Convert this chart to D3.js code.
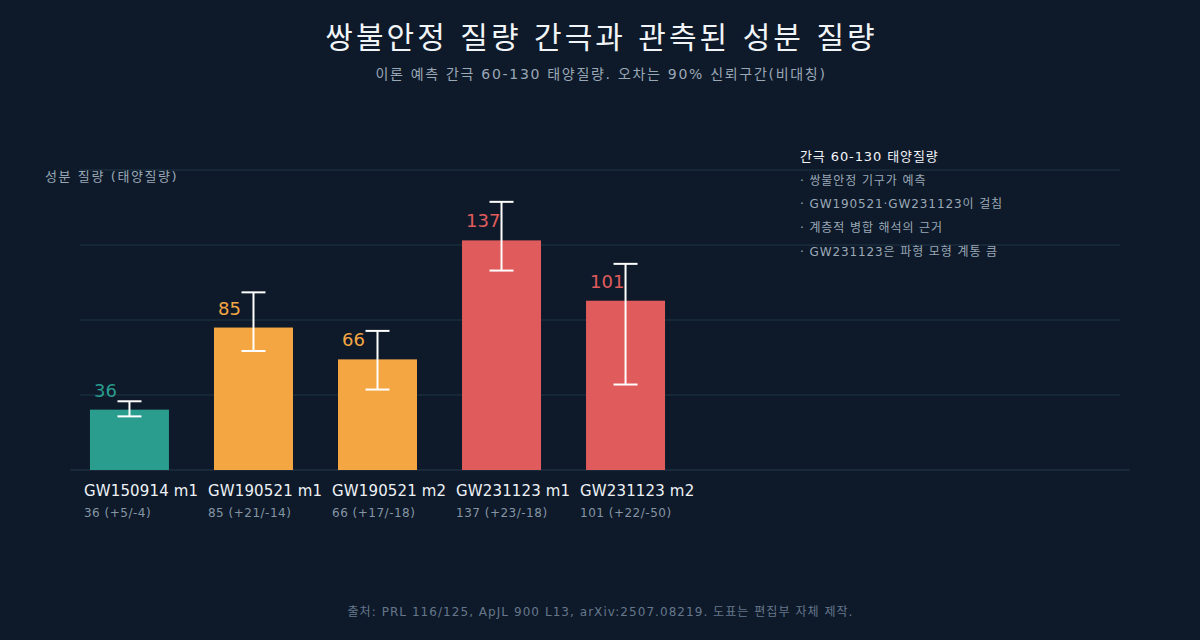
<!DOCTYPE html>
<html>
<head>
<meta charset="utf-8">
<script src="https://cdn.jsdelivr.net/npm/d3@7"></script>
<style>
  html, body { margin: 0; padding: 0; background: #0e1a2a; }
  svg { display: block; }
  text { font-family: "DejaVu Sans", "Noto Sans CJK KR", sans-serif; }
</style>
</head>
<body>
<svg id="chart" width="1200" height="640"></svg>
<script>
const categories = ["GW150914 m1", "GW190521 m1", "GW190521 m2", "GW231123 m1", "GW231123 m2"];
const masses = [36, 85, 66, 137, 101];
const errPlus = [5, 21, 17, 23, 22];
const errMinus = [4, 14, 18, 18, 50];
const groups = ["below", "gap", "gap", "above", "above"];
const groupColors = { below: "#2a9d8f", gap: "#f4a643", above: "#e05c5c" };
const noteTitle = "간극 60-130 태양질량";
const noteLines = ["· 쌍불안정 기구가 예측", "· GW190521·GW231123이 걸침", "· 계층적 병합 해석의 근거", "· GW231123은 파형 모형 계통 큼"];
const yMax = 179;
const gridFractions = [0.25, 0.5, 0.75, 1];

const svg = d3.select("#chart");
const W = 1200, H = 640;
svg.append("rect").attr("width", W).attr("height", H).attr("fill", "#0e1a2a");

const plotLeft = 70, plotRight = 1130, plotTop = 170, plotBottom = 470;

const x = d3.scaleBand().domain(categories).range([plotLeft, 685]).paddingInner(0.363).paddingOuter(0.161);
const y = d3.scaleLinear().domain([0, yMax]).range([plotBottom, plotTop]);

// title
svg.append("text").attr("x", W / 2 + 1.5).attr("y", 48).attr("text-anchor", "middle")
  .attr("fill", "#f2f5f8").attr("font-size", 30).attr("letter-spacing", 3)
  .text("쌍불안정 질량 간극과 관측된 성분 질량");
svg.append("text").attr("x", W / 2 + 1).attr("y", 79).attr("text-anchor", "middle")
  .attr("fill", "#9aa8b6").attr("font-size", 14).attr("letter-spacing", 1.7)
  .text("이론 예측 간극 60-130 태양질량. 오차는 90% 신뢰구간(비대칭)");

// grid
svg.append("g").selectAll("line").data(gridFractions).join("line")
  .attr("x1", 80).attr("x2", 1120)
  .attr("y1", d => y(d * yMax)).attr("y2", d => y(d * yMax))
  .attr("stroke", "#1f3446").attr("stroke-width", 1);

// baseline
svg.append("line").attr("x1", plotLeft).attr("x2", plotRight)
  .attr("y1", y(0)).attr("y2", y(0)).attr("stroke", "#24394b").attr("stroke-width", 1.2);

// y label
svg.append("text").attr("x", 45).attr("y", 181).attr("fill", "#9aa8b6").attr("font-size", 13)
  .attr("letter-spacing", 1.6).text("성분 질량 (태양질량)");

// bars
const data = categories.map((c, i) => ({ c, v: masses[i], p: errPlus[i], m: errMinus[i], g: groups[i] }));

svg.append("g").selectAll("rect").data(data).join("rect")
  .attr("x", d => x(d.c)).attr("width", x.bandwidth())
  .attr("y", d => y(d.v)).attr("height", d => y(0) - y(d.v))
  .attr("fill", d => groupColors[d.g]);

// value labels
svg.append("g").selectAll("text").data(data).join("text")
  .attr("x", d => x(d.c) + 4).attr("y", d => y(d.v) - 13)
  .attr("fill", d => groupColors[d.g]).attr("font-size", 18)
  .text(d => d.v);

// error bars
const eb = svg.append("g").attr("stroke", "#ffffff").attr("stroke-width", 2).attr("fill", "none");
data.forEach(d => {
  const cx = x(d.c) + x.bandwidth() / 2;
  eb.append("line").attr("x1", cx).attr("x2", cx).attr("y1", y(d.v + d.p)).attr("y2", y(d.v - d.m));
  eb.append("line").attr("x1", cx - 12).attr("x2", cx + 12).attr("y1", y(d.v + d.p)).attr("y2", y(d.v + d.p));
  eb.append("line").attr("x1", cx - 12).attr("x2", cx + 12).attr("y1", y(d.v - d.m)).attr("y2", y(d.v - d.m));
});

// category labels
svg.append("g").selectAll("text").data(data).join("text")
  .attr("x", d => x(d.c) - 6).attr("y", 496)
  .attr("fill", "#eef2f6").attr("font-size", 15).attr("letter-spacing", 0.15).text(d => d.c);
svg.append("g").selectAll("text").data(data).join("text")
  .attr("x", d => x(d.c) - 6).attr("y", 517)
  .attr("fill", "#8695a4").attr("font-size", 12).attr("letter-spacing", 0.5)
  .text(d => `${d.v} (+${d.p}/-${d.m})`);

// note
svg.append("text").attr("x", 800).attr("y", 161).attr("fill", "#f2f5f8").attr("font-size", 13)
  .attr("letter-spacing", 0.9).text(noteTitle);
svg.append("g").selectAll("text").data(noteLines).join("text")
  .attr("x", 800).attr("y", (d, i) => 184.5 + i * 23.7)
  .attr("fill", "#9aa8b6").attr("font-size", 12).attr("letter-spacing", 0.9).text(d => d);

// footer
svg.append("text").attr("x", W / 2 + 0.5).attr("y", 616).attr("text-anchor", "middle")
  .attr("fill", "#66778a").attr("font-size", 12).attr("letter-spacing", 1.05)
  .text("출처: PRL 116/125, ApJL 900 L13, arXiv:2507.08219. 도표는 편집부 자체 제작.");
</script>
</body>
</html>
